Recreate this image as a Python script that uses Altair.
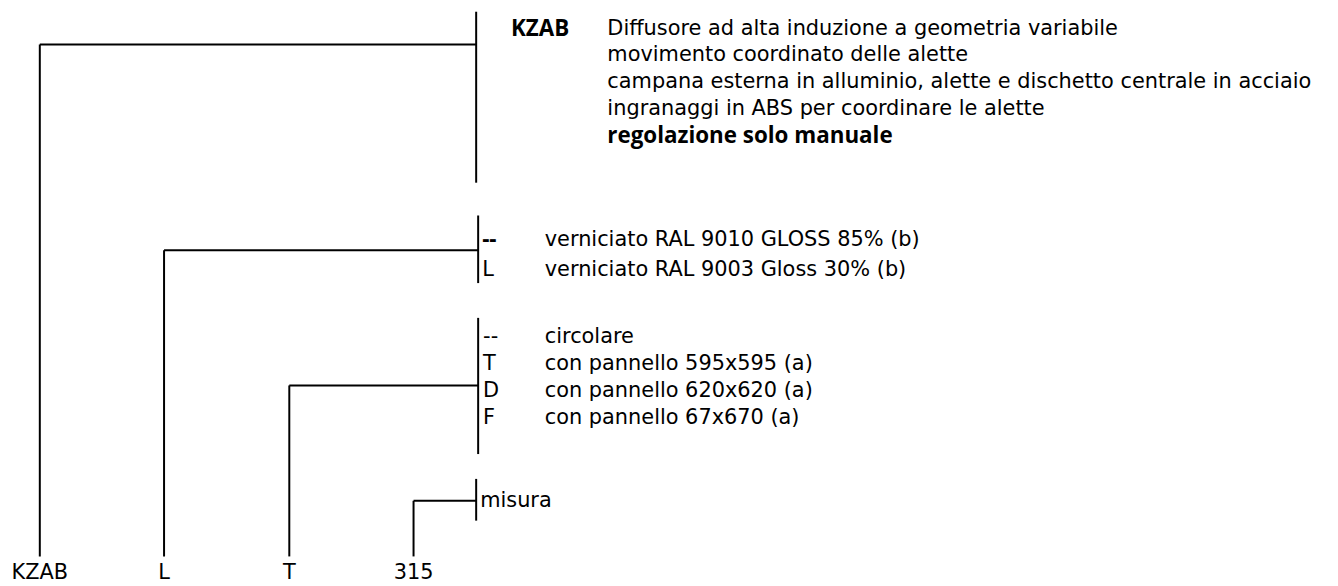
import altair as alt
import pandas as pd

FONT = "DejaVu Sans"
FONT_BOLD = "Open Sans"
FS = 21
FS_BOLD = 22.5

# ---- content ----
code_parts = ["KZAB", "L", "T", "315"]
header_code = "KZAB"
header_lines = [
    "Diffusore ad alta induzione a geometria variabile",
    "movimento coordinato delle alette",
    "campana esterna in alluminio, alette e dischetto centrale in acciaio",
    "ingranaggi in ABS per coordinare le alette",
    "regolazione solo manuale",
]
header_bold = [False, False, False, False, True]
finish_codes = ["--", "L"]
finish_labels = ["verniciato RAL 9010 GLOSS 85% (b)", "verniciato RAL 9003 Gloss 30% (b)"]
finish_bold = [True, False]
shape_codes = ["--", "T", "D", "F"]
shape_labels = ["circolare", "con pannello 595x595 (a)", "con pannello 620x620 (a)", "con pannello 67x670 (a)"]
size_label = "misura"

# ---- layout (page pixel grid) ----
W, H = 1330, 578
col_x = [40, 165, 291, 416]
trunk_x = 479
bottom_y = 558
label_base = 581

header_rows = [27, 54, 81, 108, 135]
finish_rows = [240, 270]
shape_rows = [337, 364, 392, 419]
size_row = 502

segs = []
texts = []

# group 1
segs += [(trunk_x, 10, trunk_x, 182), (col_x[0], 43, trunk_x, 43), (col_x[0], 43, col_x[0], bottom_y)]
texts.append((514, header_rows[0], header_code, True))
for r, t, b in zip(header_rows, header_lines, header_bold):
    texts.append((611, r, t, b))

# group 2
segs += [(trunk_x + 2, 215, trunk_x + 2, 283), (col_x[1], 250, trunk_x + 2, 250), (col_x[1], 250, col_x[1], bottom_y)]
for r, c, t, b in zip(finish_rows, finish_codes, finish_labels, finish_bold):
    texts.append((485, r, c, b))
    texts.append((548, r, t, False))

# group 3
segs += [(trunk_x + 2, 318, trunk_x + 2, 455), (col_x[2], 386, trunk_x + 2, 386), (col_x[2], 386, col_x[2], bottom_y)]
for r, c, t in zip(shape_rows, shape_codes, shape_labels):
    texts.append((486, r, c, False))
    texts.append((548, r, t, False))

# group 4
segs += [(trunk_x, 480, trunk_x, 522), (col_x[3], size_row, trunk_x, size_row), (col_x[3], size_row, col_x[3], bottom_y)]
texts.append((483, size_row, size_label, False))

seg_df = pd.DataFrame(segs, columns=["x", "y", "x2", "y2"])
txt_df = pd.DataFrame(texts, columns=["x", "y", "text", "bold"])
bot_df = pd.DataFrame({"x": col_x, "y": [label_base] * 4, "text": code_parts})

xs = alt.Scale(domain=[8, 8 + W], nice=False, zero=False)
ys = alt.Scale(domain=[8, 8 + H], nice=False, zero=False, reverse=True)

rules = alt.Chart(seg_df).mark_rule(color="black", strokeWidth=2).encode(
    x=alt.X("x:Q", scale=xs, axis=None),
    y=alt.Y("y:Q", scale=ys, axis=None),
    x2="x2:Q",
    y2="y2:Q",
)

normal = alt.Chart(txt_df[~txt_df.bold]).mark_text(
    align="left", baseline="middle", font=FONT, fontSize=FS, color="black"
).encode(x=alt.X("x:Q", scale=xs, axis=None), y=alt.Y("y:Q", scale=ys, axis=None), text="text:N")

bold = alt.Chart(txt_df[txt_df.bold]).mark_text(
    align="left", baseline="middle", font=FONT_BOLD, fontSize=FS_BOLD, fontWeight="bold", color="black"
).encode(x=alt.X("x:Q", scale=xs, axis=None), y=alt.Y("y:Q", scale=ys, axis=None), text="text:N")

bottom = alt.Chart(bot_df).mark_text(
    align="center", baseline="alphabetic", font=FONT, fontSize=FS, color="black"
).encode(x=alt.X("x:Q", scale=xs, axis=None), y=alt.Y("y:Q", scale=ys, axis=None), text="text:N")

chart = alt.layer(rules, normal, bold, bottom).properties(
    width=W, height=H, padding=0,
    autosize=alt.AutoSizeParams(type="none"),
    background="white",
).configure_view(stroke=None)

chart.save("out.html", embed_options={"renderer": "svg", "actions": False})
